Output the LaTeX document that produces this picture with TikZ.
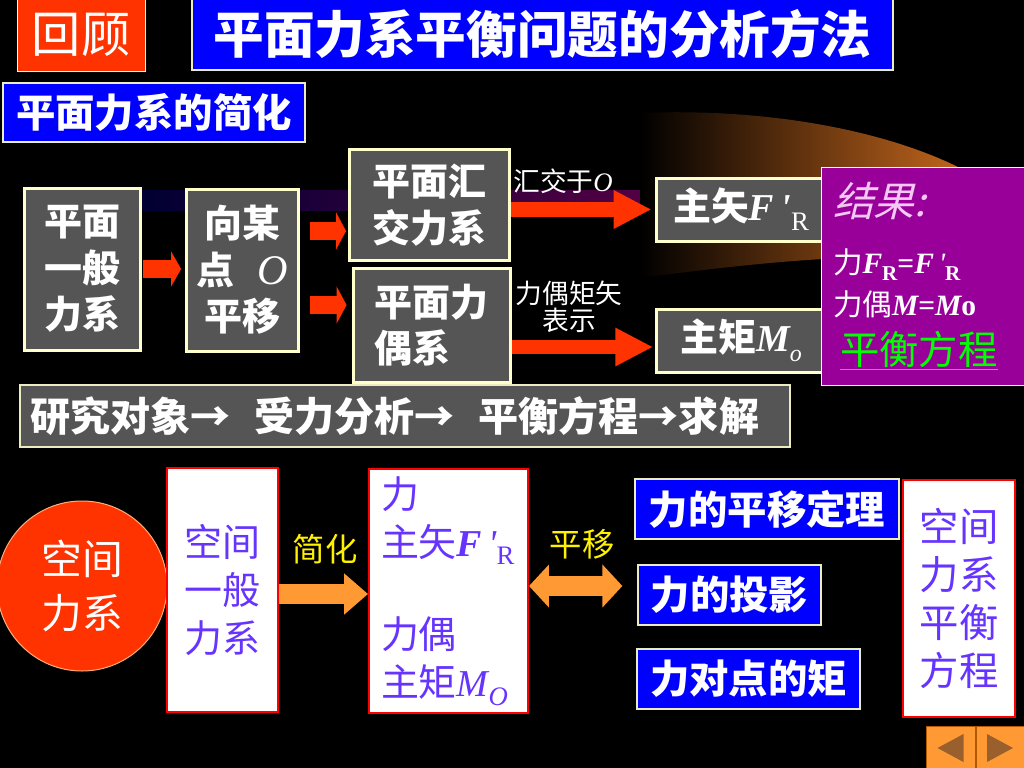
\documentclass[tikz,border=0pt]{standalone}
\usepackage{fontspec}
\setmainfont{Liberation Serif}
\newfontfamily\cjk{Noto Sans CJK SC}
\newfontfamily\cjkslant[FakeSlant=0.25]{Noto Sans CJK SC}
\usepackage{xcolor}
\usetikzlibrary{arrows.meta,positioning,calc}

\definecolor{slidered}{HTML}{FF3300}
\definecolor{slideblue}{HTML}{0000FF}
\definecolor{boxgray}{HTML}{555555}
\definecolor{cream}{HTML}{FFFFCC}
\definecolor{resultpurple}{HTML}{990099}
\definecolor{inkpurple}{HTML}{6633FF}
\definecolor{arrorange}{HTML}{FF9933}
\definecolor{navbrown}{HTML}{99602E}
\definecolor{paleviolet}{HTML}{F4C8F4}
\definecolor{eqgreen}{HTML}{00FF00}
\definecolor{navyband}{HTML}{000033}
\definecolor{plumband}{HTML}{550044}
\definecolor{glow}{HTML}{C0641C}

\newcommand\pxu{0.025cm}
\newcommand\fs[2]{\fontsize{#1pt}{#2pt}\selectfont}
\newcommand\bi[1]{{\rmfamily\bfseries\itshape #1}}
\newcommand\ri[1]{{\rmfamily\mdseries\itshape #1}}
\newcommand\qprime{{\rmfamily\itshape\,\textquotesingle}}

\begin{document}
\begin{tikzpicture}[
  x=\pxu, y=-\pxu,
  wh/.style 2 args={minimum width=#1*\pxu, minimum height=#2*\pxu},
  graybox/.style={draw=cream, line width=3*\pxu, fill=boxgray, text=white,
                  inner sep=0pt, align=center, font=\cjk\bfseries\fs{27}{33}},
  bluebox/.style={draw=cream!85!gray, line width=1.5*\pxu, fill=slideblue,
                  text=white, inner sep=0pt, font=\cjk\bfseries\fs{28}{28}},
  whitebox/.style={draw=red, line width=2*\pxu, fill=white, text=inkpurple,
                   inner sep=0pt, align=center, font=\cjk\fs{27}{34}},
  tag/.style={text=white, inner sep=0pt, align=center, font=\cjk\fs{19}{19}},
  navbtn/.style={fill=arrorange, draw=orange!70!black, line width=1*\pxu, wh={49}{46}},
  redA/.style={slidered, line width=13.5pt, -{Triangle[length=7.1pt,width=24.8pt]},
               shorten <=1.4pt, shorten >=2.8pt},
  redB/.style={slidered, line width=12.8pt, -{Triangle[length=7.1pt,width=26.2pt]}},
  redC/.style={slidered, line width=10.6pt, -{Triangle[length=26.9pt,width=25.5pt]}},
  fatarrow/.style={arrorange, line width=14.9pt, -{Triangle[length=17pt,width=28.3pt]}},
  bothways/.style={arrorange, line width=14.2pt,
                   {Triangle[length=14.2pt,width=29.8pt]}-{Triangle[length=14.2pt,width=29.8pt]}},
]
  \useasboundingbox (0,0) rectangle (1024,768);
  \fill[black] (0,0) rectangle (1024,768);

  % glow behind the upper row
  \fill[left color=navyband, right color=plumband] (140,190) rectangle (660,210);
  \fill[left color=black, right color=glow]
    (640,113) .. controls (760,108) and (880,128) .. (960,168) -- (960,262)
    .. controls (880,250) and (760,262) .. (640,278) -- cycle;

  % headings
  \node[fill=slidered, draw=cream, line width=1*\pxu, wh={128}{74}, text=white,
        inner sep=0pt, font=\cjk\fs{35}{35}] (review) at (81,35) {回顾};
  \node[bluebox, wh={701}{72}, font=\cjk\bfseries\fs{36}{36}] (title) at (542.5,34)
    {平面力系平衡问题的分析方法};
  \node[bluebox, wh={302}{59}] (planar) at (154,112.5) {平面力系的简化};

  % plane force system
  \node[graybox, wh={116}{162}] (general) at (82,269) {平面\\一般\\力系};
  \node[graybox, wh={112}{162}] (shift) at (242.5,270)
    {向某\\点\hspace{0.6em}{\fs{30}{30}\ri{O}}\\平移};
  \node[graybox, wh={160}{110}] (concur) at (429.5,205) {平面汇\\交力系};
  \node[graybox, wh={157}{114}, align=left] (couple) at (431.5,325) {平面力\\偶系};
  \node[graybox, wh={170}{63}, font=\cjk\bfseries\fs{27}{27}] (mainvec) at (741,209.5)
    {主矢\bi{F}\qprime\raisebox{-7pt}{\rmfamily\mdseries\fs{19}{19}R}};
  \node[graybox, wh={170}{63}, font=\cjk\bfseries\fs{27}{27}] (mainmom) at (741,340.5)
    {主矩\bi{M}\raisebox{-7pt}{\ri{\fs{17}{17}o}}};
  \node[fill=resultpurple, draw=cream, line width=1*\pxu, wh={205}{217}, inner sep=0pt,
        text=white, align=left, text width=181*\pxu, font=\cjk\fs{21}{30}] (result)
    at (923.5,276.5)
    {{\cjkslant\fs{29}{29}\color{paleviolet}结果:}\\[10pt]
     力\bi{F}\raisebox{-5pt}{\rmfamily\bfseries\fs{15}{15}R}{\rmfamily\bfseries =}\bi{F}\qprime\raisebox{-5pt}{\rmfamily\bfseries\fs{15}{15}R}\\
     力偶\bi{M}{\rmfamily\bfseries =}\bi{M}{\rmfamily\bfseries o}\\[5pt]
     \hspace*{5pt}{\fs{28}{28}\color{eqgreen}\underline{平衡方程}}};

  \draw[redA] (general.east) -- (general.east -| shift.west);
  \draw[redB, shorten <=7.1pt, shorten >=1.4pt] (shift.east |- 0,231) -- (concur.west |- 0,231);
  \draw[redB, shorten <=7.1pt, shorten >=3.5pt] (shift.east |- 0,305) -- (couple.west |- 0,305);
  \draw[redC, shorten >=2.1pt] (concur.east |- mainvec) -- (mainvec);
  \draw[redC, shorten >=1pt] (couple.east |- 0,347) -- (mainmom.west |- 0,347);
  \node[tag] (meet) at (563,181) {汇交于\ri{O}};
  \node[tag, font=\cjk\fs{19}{19.5}] (couplevec) at (569,307) {力偶矩矢\\表示};

  \node[graybox, draw=cream!85!gray, line width=1.5*\pxu, wh={770}{62}, align=left,
        text width=750*\pxu, font=\cjk\bfseries\fs{28.5}{28.5}] (steps) at (405,416)
    {研究对象→\hspace{17pt}受力分析→\hspace{17pt}平衡方程→求解};

  % space force system
  \node[circle, fill=slidered, draw=cream!60!slidered, line width=1*\pxu,
        minimum size=170*\pxu, inner sep=0pt, text=white, align=center,
        font=\cjk\fs{29}{39}] (spatial) at (82,586) {空间\\力系};
  \node[whitebox, wh={111}{244}] (general3d) at (222.5,590) {空间\\一般\\力系};
  \node[whitebox, wh={159}{244}, align=left, text width=135*\pxu] (reduced) at (448.5,591)
    {力\\主矢\bi{F}\qprime\raisebox{-6pt}{\rmfamily\fs{19}{19}R}\\[32pt]
     力偶\\主矩\ri{M}\raisebox{-6pt}{\ri{\fs{19}{19}O}}};
  \node[tag, text=yellow, font=\cjk\fs{23}{23}] (simplify) at (325,549) {简化};
  \node[tag, text=yellow, font=\cjk\fs{23}{23}] (translate) at (582,544) {平移};

  \node[bluebox, wh={264}{60}] (shiftthm) at (767,509) {力的平移定理};
  \node[bluebox, wh={183}{60}] (proj) at (729.5,595) {力的投影};
  \node[bluebox, wh={223}{60}] (moment) at (748.5,679) {力对点的矩};
  \node[whitebox, wh={112}{237}, font=\cjk\fs{28}{34}] (equil) at (959,598.5)
    {空间\\力系\\平衡\\方程};

  \draw[fatarrow] (general3d.east |- 0,594) -- (reduced.west |- 0,594);
  \draw[bothways, shorten >=10.6pt] (reduced.east |- 0,586) -- (proj.west |- 0,586);

  % page buttons
  \node[navbtn] (prev) at (950.5,749) {};
  \node[navbtn] (next) at (1001,749) {};
  \fill[navbrown] ($(prev.center)+(-13,-1)$) -- ++(26,-14) -- ++(0,28) -- cycle;
  \fill[navbrown] ($(next.center)+(12,-1)$) -- ++(-26,-14) -- ++(0,28) -- cycle;
\end{tikzpicture}
\end{document}
